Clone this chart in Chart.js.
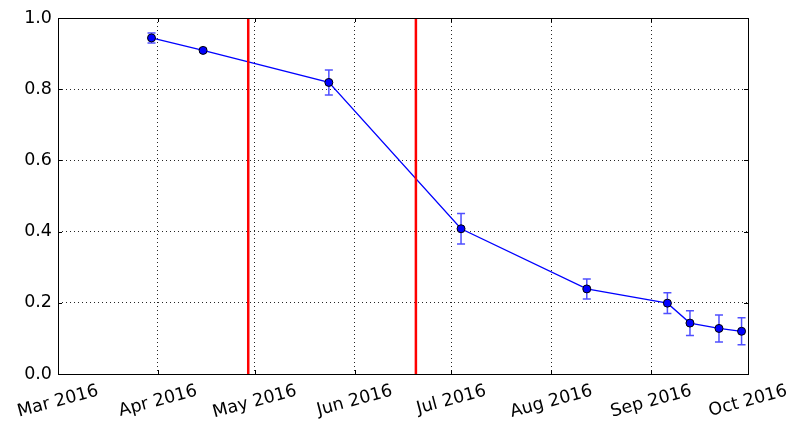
<!DOCTYPE html>
<html>
<head>
<meta charset="utf-8">
<script src="https://cdn.jsdelivr.net/npm/chart.js@4/dist/chart.umd.min.js"></script>
<style>
html,body{margin:0;padding:0;background:#fff;}
#wrap{width:792px;height:423px;}
</style>
</head>
<body>
<div id="wrap"><canvas id="c" width="792" height="423"></canvas></div>
<script>
// ---- data ----
const pointDates = ['2016-03-30','2016-04-15','2016-05-24','2016-07-04','2016-08-12','2016-09-06','2016-09-13','2016-09-22','2016-09-29'];
const pointValues = [0.944, 0.909, 0.819, 0.408, 0.239, 0.199, 0.143, 0.128, 0.120];
const pointErrors = [0.014, 0.005, 0.035, 0.043, 0.028, 0.029, 0.035, 0.038, 0.038];
const markerDates = ['2016-04-29', '2016-06-20'];
const xTickDates = ['2016-03-01','2016-04-01','2016-05-01','2016-06-01','2016-07-01','2016-08-01','2016-09-01','2016-10-01'];
const xTickLabels = ['Mar 2016','Apr 2016','May 2016','Jun 2016','Jul 2016','Aug 2016','Sep 2016','Oct 2016'];
const yTicks = [0.0, 0.2, 0.4, 0.6, 0.8, 1.0];

const toMs = s => new Date(s + 'T00:00:00Z').getTime();
const FONT = "'DejaVu Sans', 'Liberation Sans', sans-serif";
const FSIZE = 17.5;

const mainData = pointDates.map((d, i) => ({x: toMs(d), y: pointValues[i]}));
const markerSets = markerDates.map(d => ({
  data: [{x: toMs(d), y: 0}, {x: toMs(d), y: 1}],
  borderColor: '#ff0000', borderWidth: 2.5, pointRadius: 0, showLine: true,
  fill: false, order: 0
}));

const errorBars = {
  id: 'errorBars',
  beforeDatasetsDraw(chart) {
    const ctx = chart.ctx, xs = chart.scales.x, ys = chart.scales.y;
    ctx.save();
    ctx.strokeStyle = 'rgba(20,20,255,0.75)';
    ctx.lineWidth = 1.5;
    pointDates.forEach((d, i) => {
      const px = xs.getPixelForValue(toMs(d));
      const top = ys.getPixelForValue(pointValues[i] + pointErrors[i]);
      const bot = ys.getPixelForValue(pointValues[i] - pointErrors[i]);
      ctx.beginPath();
      ctx.moveTo(px, top); ctx.lineTo(px, bot);
      ctx.moveTo(px - 4, top); ctx.lineTo(px + 4, top);
      ctx.moveTo(px - 4, bot); ctx.lineTo(px + 4, bot);
      ctx.stroke();
    });
    ctx.restore();
  }
};

const frame = {
  id: 'frame',
  afterDraw(chart) {
    const ctx = chart.ctx, a = chart.chartArea, xs = chart.scales.x, ys = chart.scales.y;
    ctx.save();
    ctx.strokeStyle = '#000';
    ctx.lineWidth = 1;
    ctx.strokeRect(Math.round(a.left) + 0.5, Math.round(a.top) + 0.5,
      Math.round(a.right) - Math.round(a.left), Math.round(a.bottom) - Math.round(a.top));
    ctx.beginPath();
    yTicks.forEach(v => {
      const py = Math.round(ys.getPixelForValue(v)) + 0.5;
      ctx.moveTo(a.left, py); ctx.lineTo(a.left + 4, py);
      ctx.moveTo(a.right, py); ctx.lineTo(a.right - 4, py);
    });
    xTickDates.forEach(d => {
      const px = Math.round(xs.getPixelForValue(toMs(d))) + 0.5;
      ctx.moveTo(px, a.bottom); ctx.lineTo(px, a.bottom - 4);
      ctx.moveTo(px, a.top); ctx.lineTo(px, a.top + 4);
    });
    ctx.stroke();
    // rotated x tick labels, centred on tick like matplotlib
    ctx.fillStyle = '#000';
    ctx.font = FSIZE + 'px ' + FONT;
    ctx.textAlign = 'center';
    ctx.textBaseline = 'middle';
    const ang = 15 * Math.PI / 180;
    xTickDates.forEach((d, i) => {
      const px = xs.getPixelForValue(toMs(d));
      const w = ctx.measureText(xTickLabels[i]).width;
      const h = FSIZE * 1.16;
      const bh = w * Math.sin(ang) + h * Math.cos(ang);
      const cy = a.bottom + 7 + bh / 2;
      ctx.save();
      ctx.translate(px, cy);
      ctx.rotate(-ang);
      ctx.fillText(xTickLabels[i], 0, 0);
      ctx.restore();
    });
    ctx.restore();
  }
};

new Chart(document.getElementById('c'), {
  type: 'scatter',
  data: {
    datasets: [
      ...markerSets,
      {
        data: mainData,
        showLine: true,
        borderColor: '#0000ff',
        borderWidth: 1.3,
        backgroundColor: '#0000ff',
        pointBackgroundColor: '#0000ff',
        pointBorderColor: '#000000',
        pointBorderWidth: 1,
        pointRadius: 4,
        tension: 0,
        order: 1
      }
    ]
  },
  options: {
    responsive: false,
    animation: false,
    devicePixelRatio: 1,
    layout: {padding: {top: 18, right: 44, left: 0, bottom: 0}},
    plugins: {legend: {display: false}, tooltip: {enabled: false}},
    scales: {
      x: {
        type: 'linear',
        min: toMs(xTickDates[0]),
        max: toMs(xTickDates[xTickDates.length - 1]),
        afterBuildTicks(s) { s.ticks = xTickDates.map(d => ({value: toMs(d)})); },
        afterFit(s) { s.height = 49; },
        ticks: {display: false},
        grid: {color: 'rgba(0,0,0,0.85)', lineWidth: 1, drawTicks: false},
        border: {display: false, dash: [1, 3]}
      },
      y: {
        min: 0, max: 1,
        afterBuildTicks(s) { s.ticks = yTicks.map(v => ({value: v})); },
        afterFit(s) { s.width = 58; },
        ticks: {
          color: '#000', padding: 6,
          font: {family: FONT, size: FSIZE},
          callback: v => Number(v).toFixed(1)
        },
        grid: {color: 'rgba(0,0,0,0.85)', lineWidth: 1, drawTicks: false},
        border: {display: false, dash: [1, 3]}
      }
    }
  },
  plugins: [errorBars, frame]
});
</script>
</body>
</html>
